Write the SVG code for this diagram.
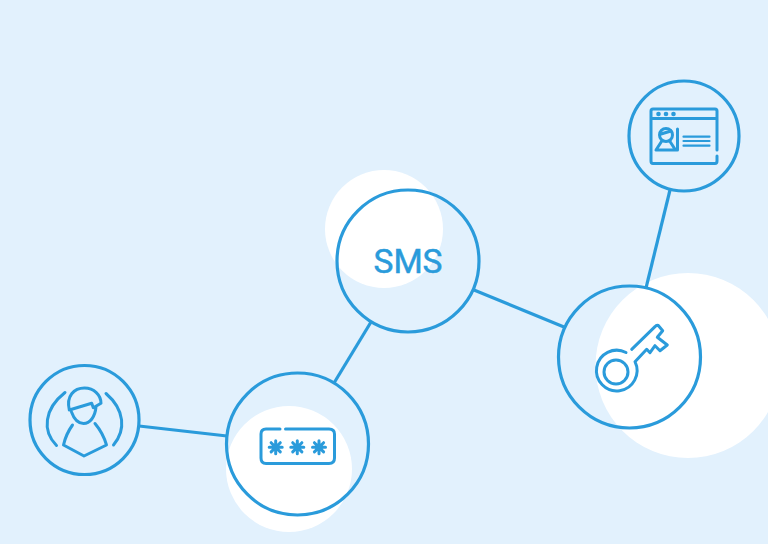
<svg xmlns="http://www.w3.org/2000/svg" width="768" height="544" viewBox="0 0 768 544">
<style>
.blob{fill:#fff}
.ring{fill:none;stroke:#2A9BDB;stroke-width:3.200}
.ic{fill:none;stroke:#2A9BDB;stroke-width:3;stroke-linecap:round;stroke-linejoin:round}
.thin{fill:none;stroke:#2A9BDB;stroke-width:2.200;stroke-linecap:round}
.star{fill:none;stroke:#2A9BDB;stroke-width:3;stroke-linecap:round}
.dot{fill:#2A9BDB}
.link{stroke:#2A9BDB;stroke-width:3.200;fill:none}
.lab{font-family:Roboto,"Liberation Sans",sans-serif;font-size:33.500px;fill:#2A9BDB;stroke:#2A9BDB;stroke-width:.5px}
</style>
<defs>
<g id="star" class="star"><path d="M-6.500 0H6.500M0-6.500V6.500M-4.600-4.600L4.600 4.600M-4.600 4.600L4.600-4.600"/><circle r="3.500" class="dot" stroke="none"/></g>
</defs>
<rect width="768" height="544" fill="#E2F1FD"/>
<circle class="blob" cx="384" cy="229" r="59"/>
<circle class="blob" cx="289" cy="469" r="63"/>
<circle class="blob" cx="688" cy="365.500" r="92.500"/>
<g id="connectors">
<path class="link" d="M139 426L227 436"/>
<path class="link" d="M334 383L371 322"/>
<path class="link" d="M474 290L564 327"/>
<path class="link" d="M646 288L670 190"/>
</g>
<g id="node-user">
<circle class="ring" cx="84.500" cy="420" r="54.500"/>
<path class="ic" d="M65 392.500C44 409 42 431 56.500 445.500M106 393.500C125 410 126 430 113.500 445"/>
<path class="ic" d="M69.300 410C66 396 74 388 84.500 388C94 388 101 395 101 403.300L93.300 407.700L91.700 403.300ZM71.500 412C74 419 78 423.500 83.500 423.500C90 423.500 95 417 96 407"/>
<path class="ic" d="M72.500 425Q66 434 63.500 445L84 456L106.500 445Q103 433 95 423.500"/>
</g>
<g id="node-password">
<circle class="ring" cx="297.500" cy="444" r="71"/>
<path class="ic" d="M280 429H266Q261 429 261 434V458Q261 463.500 266 463.500H329Q334.500 463.500 334.500 458V434Q334.500 429 329 429H285.500"/>
<use href="#star" x="275.700" y="447.300"/>
<use href="#star" x="297.300" y="447.300"/>
<use href="#star" x="319" y="447.300"/>
</g>
<g id="node-sms">
<circle class="ring" cx="408" cy="261" r="71"/>
<text class="lab" x="408" y="273" text-anchor="middle">SMS</text>
</g>
<g id="node-key">
<circle class="ring" cx="629.500" cy="357" r="71"/>
<circle class="ic" cx="616" cy="372" r="12"/>
<path class="ic" d="M626 352.500A20.300 20.300 0 1 0 635 361.700L646.700 349.300L650 352.700L655 345.700L660 350.700L667.300 345L657.300 337.300L662.700 330.700L658.300 325.500Q656.500 324.800 655 326.700L631.700 349.300"/>
</g>
<g id="node-id">
<circle class="ring" cx="684" cy="136" r="55"/>
<path class="ic" d="M717 150V111Q717 109 715 109H653Q651 109 651 111V161Q651 163.500 653 163.500H715Q717 163.500 717 161V156M651 118.500H717"/>
<circle class="dot" cx="658.500" cy="114" r="2.300"/>
<circle class="dot" cx="666" cy="114" r="2.300"/>
<circle class="dot" cx="673.500" cy="114" r="2.300"/>
<circle class="ic" cx="666" cy="135" r="6.500"/>
<path class="ic" d="M661.500 141.500L656 150H677.500V129M670 141.500L675.500 150M661 134L671 131"/>
<path class="thin" d="M683.500 136.700H709.500M683.500 141H709.500M683.500 145.700H709.500"/>
</g>
</svg>
